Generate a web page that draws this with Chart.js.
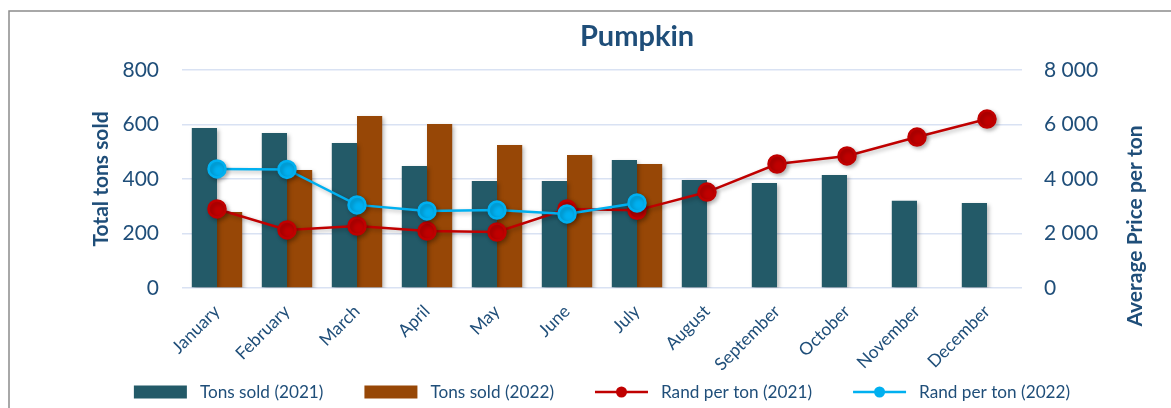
<!DOCTYPE html>
<html>
<head>
<meta charset="utf-8">
<script src="https://cdn.jsdelivr.net/npm/chart.js@4.4.1/dist/chart.umd.min.js"></script>
<style>
  body { margin: 0; background: #fff; }
  #wrap { position: relative; width: 1171px; height: 408px; }
</style>
</head>
<body>
<div id="wrap"><canvas id="myChart" width="1171" height="408"></canvas></div>
<script>
const months = ["January", "February", "March", "April", "May", "June", "July", "August", "September", "October", "November", "December"];
const tons2021 = [587, 569, 532, 448, 393, 393, 470, 396, 385, 415, 320, 312];
const tons2022 = [279, 433, 631, 602, 525, 488, 455, null, null, null, null, null];
const rand2021 = [2900, 2130, 2275, 2090, 2055, 2900, 2850, 3520, 4550, 4845, 5540, 6200];
const rand2022 = [4370, 4350, 3050, 2830, 2860, 2720, 3120, null, null, null, null, null];

const TEXT = "#1F4E79";
const FONT = "Lato";

// soft shadow under bars and markers, like the spreadsheet original
const shadowPlugin = {
  id: "shadow",
  beforeDatasetDraw(chart) {
    const c = chart.ctx;
    c.save();
    c.shadowColor = "rgba(0,0,0,0.28)";
    c.shadowBlur = 4;
    c.shadowOffsetX = 2;
    c.shadowOffsetY = 2;
  },
  afterDatasetDraw(chart) {
    chart.ctx.restore();
  },
};

// frame, title, axis titles and legend
const extras = {
  id: "extras",
  afterDraw(chart) {
    const c = chart.ctx;
    const area = chart.chartArea;
    c.save();
    c.strokeStyle = "#8c8c8c";
    c.lineWidth = 1.5;
    c.beginPath();
    c.moveTo(9, 408);
    c.lineTo(9, 11);
    c.lineTo(1171, 11);
    c.stroke();

    c.fillStyle = TEXT;
    c.textAlign = "center";
    c.textBaseline = "middle";
    c.font = "bold 29px " + FONT;
    c.fillText("Pumpkin", 637, 37);

    c.font = "bold 21px " + FONT;
    c.save();
    c.translate(101, (area.top + area.bottom) / 2);
    c.rotate(-Math.PI / 2);
    c.fillText("Total tons sold", 0, 0);
    c.restore();
    c.save();
    c.translate(1135, 226);
    c.rotate(-Math.PI / 2);
    c.fillText("Average Price per ton", 0, 0);
    c.restore();

    // legend
    const ds = chart.data.datasets;
    const legendOrder = [2, 3, 0, 1];
    c.font = "17.2px " + FONT;
    const sym = 53, gapIn = 13, gapOut = 41;
    const widths = legendOrder.map(i => sym + gapIn + c.measureText(ds[i].label).width);
    const total = widths.reduce((a, b) => a + b, 0) + gapOut * (widths.length - 1);
    let x = (area.left + area.right) / 2 - total / 2;
    const y = 392;
    legendOrder.forEach((i, k) => {
      const d = ds[i];
      if (d.type === "bar") {
        c.fillStyle = d.backgroundColor;
        c.fillRect(x, y - 6.5, sym, 13);
      } else {
        c.strokeStyle = d.borderColor;
        c.lineWidth = 2.5;
        c.beginPath();
        c.moveTo(x, y);
        c.lineTo(x + sym, y);
        c.stroke();
        c.fillStyle = d.pointBackgroundColor;
        c.beginPath();
        c.arc(x + sym / 2, y, 5.5, 0, Math.PI * 2);
        c.fill();
      }
      c.fillStyle = TEXT;
      c.textAlign = "left";
      c.textBaseline = "middle";
      c.fillText(d.label, x + sym + gapIn, y);
      x += widths[k] + gapOut;
    });
    c.restore();
  },
};

const ctx = document.getElementById("myChart");
new Chart(ctx, {
  data: {
    labels: months,
    datasets: [
      {
        type: "line",
        label: "Rand per ton (2021)",
        data: rand2021,
        yAxisID: "y1",
        borderColor: "#C00000",
        backgroundColor: "#C00000",
        pointBackgroundColor: "#C00000",
        pointBorderColor: "#C00000",
        borderWidth: 2.5,
        pointRadius: 8.5,
        pointHoverRadius: 8.5,
        order: 1,
      },
      {
        type: "line",
        label: "Rand per ton (2022)",
        data: rand2022,
        yAxisID: "y1",
        borderColor: "#00B0F0",
        backgroundColor: "#00B0F0",
        pointBackgroundColor: "#00B0F0",
        pointBorderColor: "#00B0F0",
        borderWidth: 2.5,
        pointRadius: 8.5,
        pointHoverRadius: 8.5,
        order: 0,
      },
      {
        type: "bar",
        label: "Tons sold (2021)",
        data: tons2021,
        yAxisID: "y",
        backgroundColor: "#235A68",
        categoryPercentage: 0.72,
        barPercentage: 1,
        order: 2,
      },
      {
        type: "bar",
        label: "Tons sold (2022)",
        data: tons2022,
        yAxisID: "y",
        backgroundColor: "#974706",
        categoryPercentage: 0.72,
        barPercentage: 1,
        order: 3,
      },
    ],
  },
  options: {
    responsive: false,
    animation: false,
    layout: { padding: { top: 70 } },
    plugins: {
      legend: { display: false },
      tooltip: { enabled: false },
      title: { display: false },
    },
    scales: {
      x: {
        grid: { display: false },
        border: { display: false },
        ticks: {
          autoSkip: false,
          maxRotation: 45,
          minRotation: 45,
          padding: 5,
          color: TEXT,
          font: { family: FONT, size: 17.5 },
        },
        afterFit(scale) { scale.height = 120; },
      },
      y: {
        position: "left",
        min: 0,
        max: 800,
        ticks: {
          stepSize: 200,
          padding: 23,
          color: TEXT,
          font: { family: FONT, size: 21 },
        },
        grid: { color: "#D9E2F3", lineWidth: 1.5, drawTicks: false },
        border: { display: false },
        afterFit(scale) { scale.width = 182; },
      },
      y1: {
        position: "right",
        min: 0,
        max: 8000,
        ticks: {
          stepSize: 2000,
          padding: 22,
          color: TEXT,
          font: { family: FONT, size: 21 },
          callback: v => v === 0 ? "0" : String(v).replace(/\B(?=(\d{3})+(?!\d))/g, " "),
        },
        grid: { display: false, drawTicks: false },
        border: { display: false },
        afterFit(scale) { scale.width = 149; },
      },
    },
  },
  plugins: [shadowPlugin, extras],
});
</script>
</body>
</html>
